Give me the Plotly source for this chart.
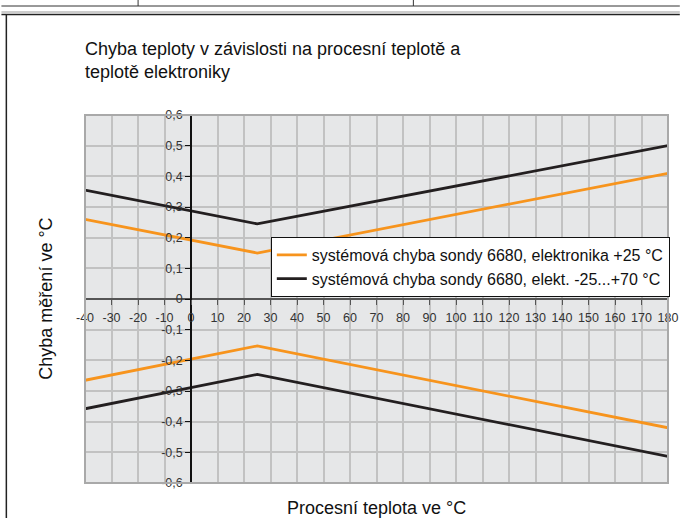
import plotly.graph_objects as go

# ---- data ----
temp = [-40, 25, 180]
orange_upper = [0.26, 0.15, 0.41]
orange_lower = [-0.265, -0.153, -0.42]
black_upper = [0.355, 0.245, 0.50]
black_lower = [-0.358, -0.246, -0.513]

x_ticks = list(range(-40, 181, 10))
x_ticktext = [str(v) for v in x_ticks]
y_ticks = [-0.6, -0.5, -0.4, -0.3, -0.2, -0.1, 0, 0.1, 0.2, 0.3, 0.4, 0.5, 0.6]
y_ticktext = ["-0,6", "-0,5", "-0,4", "-0,3", "-0,2", "-0,1", "0",
              "0,1", "0,2", "0,3", "0,4", "0,5", "0,6"]

name_orange = "systémová chyba sondy 6680, elektronika +25 °C"
name_black = "systémová chyba sondy 6680, elekt. -25...+70 °C"

ORANGE = "#f7941d"
BLACK = "#231f20"
FONT = "Liberation Sans, Arial, sans-serif"

W, H = 690, 518
L, R, T, B = 85, 12, 115, 35
PW, PH = W - L - R, H - T - B


def px(xp):
    return (xp - L) / PW


def py(yp):
    return (H - B - yp) / PH


fig = go.Figure()
fig.add_trace(go.Scatter(x=temp, y=orange_upper, mode="lines", name=name_orange,
                         legendgroup="o", line=dict(color=ORANGE, width=2.8)))
fig.add_trace(go.Scatter(x=temp, y=black_upper, mode="lines", name=name_black,
                         legendgroup="b", line=dict(color=BLACK, width=2.8)))
fig.add_trace(go.Scatter(x=temp, y=orange_lower, mode="lines", name=name_orange,
                         legendgroup="o", showlegend=False,
                         line=dict(color=ORANGE, width=2.8)))
fig.add_trace(go.Scatter(x=temp, y=black_lower, mode="lines", name=name_black,
                         legendgroup="b", showlegend=False,
                         line=dict(color=BLACK, width=2.8)))

x0_frac = (0 - (-40)) / (180 - (-40))

fig.update_layout(
    width=W, height=H,
    margin=dict(l=L, r=R, t=T, b=B),
    paper_bgcolor="white",
    plot_bgcolor="#e6e7e8",
    separators=", ",
    font=dict(family=FONT, color="#222"),
    title=dict(
        text="Chyba teploty v závislosti na procesní teplotě a<br>teplotě elektroniky",
        x=0, xref="paper", xanchor="left",
        y=1 - 55 / H, yref="container", yanchor="top",
        font=dict(family=FONT, size=18, color="#111"),
    ),
    xaxis=dict(
        range=[-40, 180],
        tickvals=x_ticks, ticktext=x_ticktext,
        showgrid=True, gridcolor="#c2c2c2", gridwidth=1.5,
        zeroline=False,
        showline=True, linecolor="#555555", linewidth=2,
        ticks="outside", ticklen=5, tickwidth=1.2, tickcolor="#555555",
        tickfont=dict(family=FONT, size=12.5, color="#333"),
        ticklabelstandoff=2,
        anchor="free", position=0.5,
    ),
    yaxis=dict(
        range=[-0.6, 0.6],
        tickvals=y_ticks, ticktext=y_ticktext,
        showgrid=True, gridcolor="#c2c2c2", gridwidth=1.5,
        zeroline=False,
        showline=True, linecolor="#111111", linewidth=1.5,
        ticks="outside", ticklen=5, tickwidth=1.2, tickcolor="#111111",
        tickfont=dict(family=FONT, size=12.5, color="#333"),
        anchor="free", position=x0_frac,
    ),
    legend=dict(
        x=px(274), y=py(297), xanchor="left", yanchor="bottom",
        bgcolor="white", bordercolor="#111", borderwidth=1,
        font=dict(family=FONT, size=16, color="#111"),
        tracegroupgap=0, itemwidth=30,
    ),
    showlegend=True,
)

# axis titles (axes are positioned through zero, so titles are placed as text)
fig.add_annotation(text="Procesní teplota ve °C", xref="paper", yref="paper",
                   x=0.5, y=py(508), xanchor="center", yanchor="middle",
                   showarrow=False, font=dict(family=FONT, size=18, color="#111"))
fig.add_annotation(text="Chyba měření ve °C", xref="paper", yref="paper",
                   x=px(45), y=0.5, xanchor="center", yanchor="middle",
                   textangle=-90, showarrow=False,
                   font=dict(family=FONT, size=18, color="#111"))

shapes = [
    # plot frame
    dict(type="rect", xref="paper", yref="paper", x0=0, x1=1, y0=0, y1=1,
         line=dict(color="#a9a9a9", width=2), layer="above"),
    # page decorations (datasheet table lines)
    dict(type="line", xref="paper", yref="paper", x0=px(0), x1=px(690),
         y0=py(6), y1=py(6), line=dict(color="#333", width=1)),
    dict(type="line", xref="paper", yref="paper", x0=px(139), x1=px(139),
         y0=py(0), y1=py(6), line=dict(color="#333", width=1)),
    dict(type="line", xref="paper", yref="paper", x0=px(419), x1=px(419),
         y0=py(0), y1=py(6), line=dict(color="#333", width=1)),
    dict(type="line", xref="paper", yref="paper", x0=px(0), x1=px(690),
         y0=py(12), y1=py(12), line=dict(color="#bbbbbb", width=1.5)),
    dict(type="line", xref="paper", yref="paper", x0=px(0), x1=px(690),
         y0=py(14.5), y1=py(14.5), line=dict(color="#222", width=1.5)),
    dict(type="line", xref="paper", yref="paper", x0=px(5), x1=px(5),
         y0=py(14.5), y1=py(518), line=dict(color="#222", width=1.5)),
]
fig.update_layout(shapes=shapes)

fig.write_html("out.html",
               config={"displayModeBar": False},
               post_script="document.body.style.margin='0';document.body.style.padding='0';")
